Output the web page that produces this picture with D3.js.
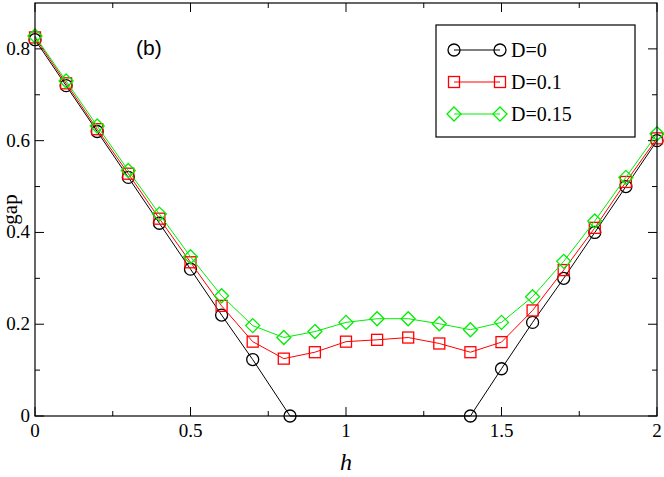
<!DOCTYPE html><html><head><script src="https://d3js.org/d3.v7.min.js"></script>
<style>body{margin:0;background:#fff}text{font-family:"Liberation Serif","DejaVu Serif",serif}</style></head><body>
<svg id="c" width="664" height="477"></svg>
<script>
const h=[0,0.1,0.2,0.3,0.4,0.5,0.6,0.7,0.8,0.9,1.0,1.1,1.2,1.3,1.4,1.5,1.6,1.7,1.8,1.9,2.0];
const h0=[0,0.1,0.2,0.3,0.4,0.5,0.6,0.7,0.82,1.4,1.5,1.6,1.7,1.8,1.9,2.0];
const gap0=[0.82,0.72,0.62,0.52,0.42,0.32,0.22,0.123,0,0,0.103,0.204,0.3,0.4,0.5,0.6];
const gap01=[0.825,0.725,0.625,0.528,0.43,0.335,0.24,0.162,0.125,0.139,0.162,0.166,0.171,0.158,0.139,0.161,0.23,0.318,0.41,0.51,0.605];
const gap015=[0.828,0.73,0.632,0.535,0.44,0.347,0.262,0.197,0.171,0.184,0.204,0.212,0.212,0.201,0.188,0.204,0.26,0.337,0.425,0.52,0.615];
const xTicks=[0,0.5,1,1.5,2], yTicks=[0,0.2,0.4,0.6,0.8];
const yLab=["0","0.2","0.4","0.6","0.8"], xLab=["0","0.5","1","1.5","2"];
const seriesNames=["D=0","D=0.1","D=0.15"];
const svg=d3.select("#c");
const L=35,R=657,T=3,B=416;
const x=d3.scaleLinear().domain([0,2]).range([L,R]);
const y=d3.scaleLinear().domain([0,0.9]).range([B,T]);
const g=svg.append("g");
[0,0.25,0.5,0.75,1,1.25,1.5,1.75,2].forEach((v,i)=>{const len=i%2?5:9;
 g.append("line").attr("x1",x(v)).attr("x2",x(v)).attr("y1",B).attr("y2",B-len).attr("stroke","#000");
 g.append("line").attr("x1",x(v)).attr("x2",x(v)).attr("y1",T).attr("y2",T+len).attr("stroke","#000");});
[0,0.1,0.2,0.3,0.4,0.5,0.6,0.7,0.8].forEach((v,i)=>{const len=i%2?5:9;
 g.append("line").attr("y1",y(v)).attr("y2",y(v)).attr("x1",L).attr("x2",L+len).attr("stroke","#000");
 g.append("line").attr("y1",y(v)).attr("y2",y(v)).attr("x1",R).attr("x2",R-len).attr("stroke","#000");});
xTicks.forEach((v,i)=>g.append("text").attr("x",x(v)).attr("y",B+21).attr("text-anchor","middle").attr("font-size",19).text(xLab[i]));
yTicks.forEach((v,i)=>g.append("text").attr("x",L-5).attr("y",y(v)+6).attr("text-anchor","end").attr("font-size",19).text(yLab[i]));
svg.append("text").attr("x",(L+R)/2).attr("y",470).attr("text-anchor","middle").attr("font-size",24).attr("font-style","italic").text("h");
svg.append("text").attr("transform",`translate(17,${(T+B)/2}) rotate(-90)`).attr("text-anchor","middle").attr("font-size",21).text("gap");
svg.append("text").attr("x",136).attr("y",55).attr("font-size",21).style("font-family","Liberation Sans,Arial,sans-serif").text("(b)");
const line=d3.line().x(d=>x(d[0])).y(d=>y(d[1]));
function marker(sel,type,col,cx,cy){
 if(type==="c") sel.append("circle").attr("cx",cx).attr("cy",cy).attr("r",6).attr("fill","none").attr("stroke",col).attr("stroke-width",1.3);
 else if(type==="s") sel.append("rect").attr("x",cx-5.5).attr("y",cy-5.5).attr("width",11).attr("height",11).attr("fill","none").attr("stroke",col).attr("stroke-width",1.3);
 else sel.append("path").attr("d",`M${cx},${cy-7}L${cx+7},${cy}L${cx},${cy+7}L${cx-7},${cy}Z`).attr("fill","none").attr("stroke",col).attr("stroke-width",1.3);
}
const series=[[h0,gap0,"#000","c"],[h,gap01,"#ff0000","s"],[h,gap015,"#00ee00","d"]];
series.forEach(([xs,ys,col,t])=>{
 const pts=xs.map((v,i)=>[v,ys[i]]);
 svg.append("path").attr("d",line(pts)).attr("fill","none").attr("stroke",col).attr("stroke-width",1);
 pts.forEach(p=>marker(svg,t,col,x(p[0]),y(p[1])));
});
svg.append("rect").attr("x",L).attr("y",T).attr("width",R-L).attr("height",B-T).attr("fill","none").attr("stroke","#000").attr("stroke-width",1.2);
const lg=svg.append("g");
lg.append("rect").attr("x",436).attr("y",25).attr("width",199).attr("height",112).attr("fill","#fff").attr("stroke","#000").attr("stroke-width",1.2);
series.forEach(([xs,ys,col,t],i)=>{
 const yy=50+i*32;
 lg.append("line").attr("x1",454).attr("x2",500).attr("y1",yy).attr("y2",yy).attr("stroke",col);
 marker(lg,t,col,454,yy);marker(lg,t,col,500,yy);
 lg.append("text").attr("x",511).attr("y",yy+7).attr("font-size",20).text(seriesNames[i]);
});
</script></body></html>
